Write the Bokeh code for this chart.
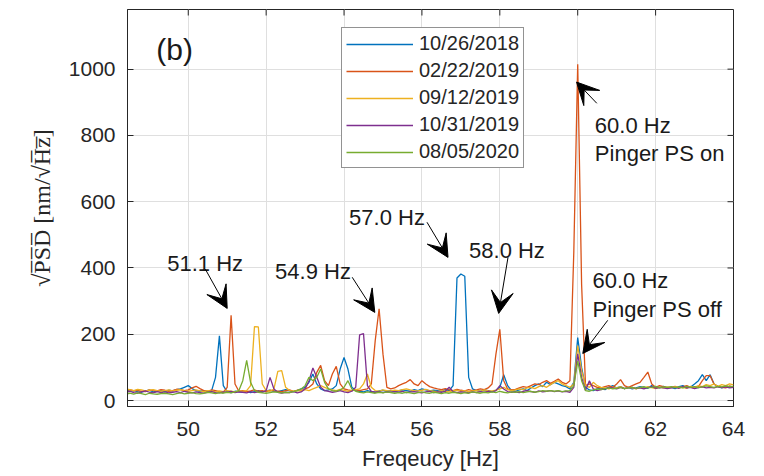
import numpy as np
from bokeh.plotting import figure
from bokeh.models import (Legend, LegendItem, Label, Arrow, VeeHead,
                          Range1d, FixedTicker)
from bokeh.embed import file_html
from bokeh.resources import INLINE

# frequency grid (Hz), 0.1 Hz resolution
freq = np.round(np.arange(48.4, 64.05, 0.1), 1)

dates = ["10/26/2018", "02/22/2019", "09/12/2019", "10/31/2019", "08/05/2020"]
colors = ["#0072BD", "#D95319", "#EDB120", "#7E2F8E", "#77AC30"]

psd_20181026 = [
    32, 28, 30, 27, 25, 29, 31, 26, 28, 30,
    27, 31, 29, 33, 35, 40, 45, 36, 30, 28,
    30, 27, 30, 70, 195, 45, 26, 24, 28, 26,
    25, 28, 24, 27, 30, 26, 29, 31, 28, 27,
    30, 33, 29, 27, 31, 35, 40, 55, 80, 50,
    35, 30, 32, 35, 45, 95, 130, 95, 40, 30,
    28, 26, 30, 27, 25, 29, 31, 28, 30, 27,
    29, 32, 30, 28, 33, 30, 35, 32, 29, 31,
    30, 28, 33, 30, 45, 370, 382, 375, 70, 35,
    30, 28, 32, 30, 27, 31, 40, 78, 45, 30,
    28, 32, 35, 30, 38, 45, 50, 42, 55, 48,
    55, 50, 45, 42, 35, 55, 190, 100, 40, 32,
    30, 35, 38, 33, 40, 45, 38, 42, 36, 40,
    35, 38, 42, 40, 37, 45, 40, 38, 43, 39,
    40, 36, 42, 45, 38, 41, 50, 60, 78, 60,
    78, 50, 42, 38, 45, 40, 42,
]
psd_20190222 = [
    30, 33, 29, 31, 28, 27, 32, 30, 29, 33,
    31, 28, 30, 34, 33, 30, 32, 38, 43, 36,
    30, 28, 32, 30, 27, 25, 40, 257, 50, 28,
    30, 27, 29, 32, 28, 30, 26, 31, 29, 28,
    27, 30, 32, 28, 31, 30, 35, 40, 50, 85,
    106, 60, 45, 80, 103, 50, 35, 32, 30, 33,
    30, 33, 35, 50, 180, 277, 140, 40, 35, 38,
    45, 50, 55, 63, 50, 45, 60, 50, 42, 38,
    35, 33, 36, 32, 30, 34, 31, 29, 33, 30,
    32, 35, 33, 38, 50, 140, 215, 60, 35, 32,
    34, 38, 42, 40, 45, 50, 48, 55, 60, 52,
    58, 65, 55, 50, 60, 450, 1015, 350, 45, 50,
    45, 40, 38, 42, 45, 40, 50, 63, 45, 40,
    45, 50, 55, 70, 86, 50, 40, 45, 42, 38,
    40, 43, 38, 42, 45, 40, 38, 42, 60, 75,
    75, 50, 42, 40, 38, 44, 40,
]
psd_20190912 = [
    35, 33, 30, 34, 32, 29, 31, 33, 30, 28,
    30, 32, 29, 31, 33, 30, 28, 30, 32, 29,
    27, 30, 28, 26, 29, 27, 30, 28, 26, 29,
    28, 30, 45, 223, 222, 50, 30, 28, 35, 88,
    90, 40, 30, 28, 31, 29, 33, 30, 35, 40,
    45, 40, 35, 32, 30, 34, 31, 28, 30, 33,
    35, 50, 80, 40, 30, 28, 32, 30, 29, 31,
    30, 33, 35, 32, 30, 29, 31, 34, 30, 28,
    27, 30, 28, 26, 29, 31, 28, 30, 27, 29,
    30, 28, 32, 30, 29, 31, 35, 40, 33, 30,
    32, 35, 33, 38, 40, 36, 42, 45, 40, 48,
    55, 60, 50, 45, 40, 50, 166, 90, 45, 40,
    55, 45, 40, 38, 35, 40, 38, 42, 36, 40,
    38, 35, 40, 37, 42, 39, 36, 40, 38, 41,
    39, 42, 38, 40, 37, 43, 40, 45, 42, 48,
    45, 50, 43, 48, 45, 50, 47,
]
psd_20191031 = [
    25, 28, 24, 22, 26, 29, 25, 23, 27, 24,
    26, 23, 25, 27, 24, 28, 25, 23, 26, 24,
    22, 25, 27, 24, 23, 26, 25, 28, 24, 26,
    25, 23, 27, 24, 26, 25, 30, 70, 35, 25,
    22, 25, 24, 27, 23, 26, 35, 60, 98, 70,
    40, 30, 28, 25, 27, 30, 26, 24, 28, 40,
    198, 202, 45, 28, 25, 27, 24, 26, 25, 27,
    25, 28, 24, 26, 27, 25, 23, 26, 28, 24,
    26, 25, 28, 40, 27, 24, 26, 25, 23, 26,
    24, 27, 25, 28, 26, 30, 45, 35, 27, 25,
    26, 24, 28, 30, 27, 25, 29, 26, 28, 30,
    27, 29, 26, 28, 25, 40, 141, 70, 30, 60,
    35, 30, 33, 35, 40, 38, 35, 40, 36, 38,
    40, 36, 38, 35, 39, 42, 37, 40, 38, 36,
    38, 40, 37, 42, 38, 40, 36, 39, 41, 38,
    40, 38, 42, 39, 41, 38, 40,
]
psd_20200805 = [
    20, 22, 19, 23, 21, 18, 22, 20, 19, 21,
    22, 20, 18, 21, 23, 20, 22, 24, 21, 20,
    22, 25, 23, 21, 24, 22, 25, 23, 26, 30,
    60, 121, 55, 30, 25, 23, 22, 24, 26, 25,
    23, 25, 24, 27, 30, 35, 45, 70, 60, 70,
    95, 55, 35, 30, 28, 32, 40, 60, 35, 28,
    25, 23, 26, 24, 22, 25, 23, 26, 24, 22,
    24, 22, 25, 23, 21, 24, 26, 23, 22, 25,
    23, 21, 24, 22, 25, 23, 21, 24, 22, 26,
    24, 22, 25, 23, 26, 24, 28, 25, 23, 26,
    25, 27, 24, 26, 28, 25, 27, 30, 28, 30,
    28, 30, 27, 29, 30, 45, 119, 60, 30, 28,
    32, 35, 33, 36, 38, 35, 37, 40, 36, 38,
    40, 37, 39, 42, 38, 40, 43, 39, 41, 40,
    42, 39, 41, 38, 43, 40, 42, 39, 41, 44,
    42, 40, 43, 41, 44, 42, 43,
]
series = [psd_20181026, psd_20190222, psd_20190912, psd_20191031, psd_20200805]

x_ticks = [50, 52, 54, 56, 58, 60, 62, 64]
y_ticks = [0, 200, 400, 600, 800, 1000]

# annotations (data coordinates)
ann_text = ["51.1 Hz", "54.9 Hz", "57.0 Hz", "58.0 Hz",
            "60.0 Hz", "Pinger PS on", "60.0 Hz", "Pinger PS off"]
ann_x = [49.46, 52.23, 54.13, 57.21, 60.44, 60.44, 60.38, 60.38]
ann_y = [414, 390, 553, 453, 831, 746, 363, 275]

arrow_x0 = [50.44, 54.21, 56.13, 58.21, 60.49, 60.77]
arrow_y0 = [396, 372, 538, 432, 897, 242]
arrow_x1 = [51.00, 54.79, 56.67, 57.97, 59.97, 60.13]
arrow_y1 = [278, 266, 432, 263, 961, 142]

INK = "#262626"
SANS = "Liberation Sans"
X0, X1 = 48.44, 64.0
Y0, Y1 = -18, 1180
FRAME_W, FRAME_H = 606, 397

p = figure(width=764, height=476, output_backend="svg", toolbar_location=None,
           x_range=Range1d(X0, X1), y_range=Range1d(Y0, Y1),
           min_border_left=127, min_border_right=31, min_border_top=9,
           min_border_bottom=70)
p.background_fill_color = "white"
p.border_fill_color = "white"
p.outline_line_color = INK
p.outline_line_width = 1

items = []
for ys, c, d in zip(series, colors, dates):
    r = p.line(freq, ys, line_color=c, line_width=1.3)
    items.append(LegendItem(label=d, renderers=[r]))

# axes
for ax in (p.xaxis[0], p.yaxis[0]):
    ax.axis_line_color = INK
    ax.major_tick_line_color = INK
    ax.major_tick_in = 6
    ax.major_tick_out = 0
    ax.minor_tick_line_color = None
    ax.major_label_text_font = SANS
    ax.major_label_text_font_size = "21px"
    ax.major_label_text_color = INK
    ax.axis_label_text_font_style = "normal"
    ax.axis_label_text_color = INK

p.xaxis[0].ticker = FixedTicker(ticks=x_ticks)
p.yaxis[0].ticker = FixedTicker(ticks=y_ticks)
p.xaxis[0].axis_label = "Freqeucy [Hz]"
p.xaxis[0].axis_label_text_font = SANS
p.xaxis[0].axis_label_text_font_size = "22px"
p.xaxis[0].major_label_standoff = 15
p.xaxis[0].axis_label_standoff = 7
p.yaxis[0].axis_label = "\u221aP\u0305S\u0305D\u0305 [nm/\u221aH\u0305z\u0305]"
p.yaxis[0].axis_label_text_font = "Liberation Serif"
p.yaxis[0].axis_label_text_font_size = "24px"
p.yaxis[0].major_label_standoff = 12
p.yaxis[0].axis_label_standoff = 11

# inward tick marks on the top and right box edges
tlx = 6 * (X1 - X0) / FRAME_W
tly = 6 * (Y1 - Y0) / FRAME_H
p.segment(x0=x_ticks, y0=[Y1] * len(x_ticks), x1=x_ticks, y1=[Y1 - tly] * len(x_ticks),
          line_color=INK, line_width=1)
p.segment(x0=[X1] * len(y_ticks), y0=y_ticks, x1=[X1 - tlx] * len(y_ticks), y1=y_ticks,
          line_color=INK, line_width=1)

p.xgrid.ticker = FixedTicker(ticks=x_ticks)
p.ygrid.ticker = FixedTicker(ticks=y_ticks)
for g in (p.xgrid[0], p.ygrid[0]):
    g.grid_line_color = "#dfdfdf"
    g.grid_line_width = 1

legend = Legend(items=items, location=(214, 238), label_text_font=SANS,
                label_text_font_size="20px", label_text_color=INK,
                glyph_width=67, glyph_height=20, label_height=20, label_standoff=6,
                spacing=4, padding=4, margin=0,
                border_line_color=INK, border_line_width=1,
                background_fill_color="white", background_fill_alpha=1)
p.add_layout(legend, "center")

for t, x, y in zip(ann_text, ann_x, ann_y):
    p.add_layout(Label(x=x, y=y, text=t, text_font=SANS, text_font_size="22px",
                       text_color="#1a1a1a", text_baseline="alphabetic",
                       text_align="left"))

p.add_layout(Label(x=49.18, y=1060, text="(b)", text_font=SANS, text_font_size="30px",
                   text_color="#1a1a1a", text_baseline="alphabetic", text_align="left"))

for x0, y0, x1, y1 in zip(arrow_x0, arrow_y0, arrow_x1, arrow_y1):
    p.add_layout(Arrow(x_start=x0, y_start=y0, x_end=x1, y_end=y1,
                       line_color="black", line_width=1,
                       end=VeeHead(size=22, fill_color="black", line_color="black",
                                   line_width=1)))

open("out.html", "w").write(file_html(p, INLINE))
